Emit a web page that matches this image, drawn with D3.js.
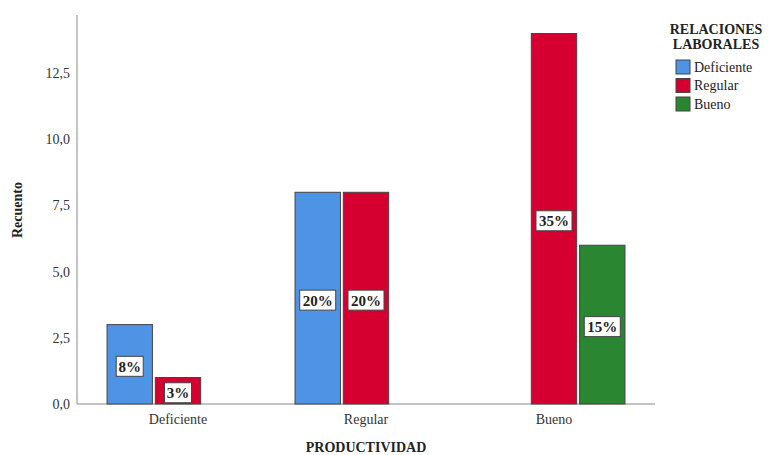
<!DOCTYPE html>
<html><head><meta charset="utf-8">
<script src="https://cdn.jsdelivr.net/npm/d3@7"></script>
<style>body{margin:0;background:#fff}</style>
</head><body>
<svg id="c" width="770" height="455" style="font-family:'Liberation Serif'"></svg>
<script>
const categories = ["Deficiente", "Regular", "Bueno"];
const seriesNames = ["Deficiente", "Regular", "Bueno"];
const valuesDeficiente = [3, 8, 0];
const valuesRegular = [1, 8, 14];
const valuesBueno = [0, 0, 6];
const labelsDeficiente = ["8%", "20%", ""];
const labelsRegular = ["3%", "20%", "35%"];
const labelsBueno = ["", "", "15%"];
const yTicks = [0, 2.5, 5, 7.5, 10, 12.5];
const colors = ["#4f93e4", "#d5002f", "#2a8630"];

const seriesVals = [valuesDeficiente, valuesRegular, valuesBueno];
const seriesLabels = [labelsDeficiente, labelsRegular, labelsBueno];
const svg = d3.select("#c");
const FF = "'Liberation Serif'";

const y = d3.scaleLinear().domain([0, 14.7]).range([404, 15]);
const x0 = d3.scaleBand().domain(categories).range([84, 648]).paddingInner(0.245).paddingOuter(0.1225);
const x1 = d3.scaleBand().domain(seriesNames).range([0, x0.bandwidth()]).paddingInner(0.06);

svg.append("line").attr("x1", 77).attr("x2", 77).attr("y1", 15).attr("y2", 404).attr("stroke", "#888");
svg.append("line").attr("x1", 77).attr("x2", 655).attr("y1", 404).attr("y2", 404).attr("stroke", "#888");

svg.append("g").selectAll("text").data(yTicks).join("text")
  .attr("x", 70).attr("y", d => y(d)).attr("dy", "0.35em").attr("text-anchor", "end")
  .style("font-family", FF).style("font-size", "14px").attr("fill", "#333")
  .text(d => d3.format(".1f")(d).replace(".", ","));

svg.append("g").selectAll("text").data(categories).join("text")
  .attr("x", d => x0(d) + x0.bandwidth() / 2).attr("y", 424).attr("text-anchor", "middle")
  .style("font-family", FF).style("font-size", "14px").attr("fill", "#333").text(d => d);

svg.append("text").attr("x", 366).attr("y", 452).attr("text-anchor", "middle")
  .style("font-family", FF).style("font-size", "14px").style("font-weight", "bold").attr("fill", "#222").text("PRODUCTIVIDAD");
svg.append("text").attr("transform", "translate(22,210) rotate(-90)").attr("text-anchor", "middle")
  .style("font-family", FF).style("font-size", "14px").style("font-weight", "bold").attr("fill", "#222").text("Recuento");

const data = [];
categories.forEach((c, i) => seriesNames.forEach((s, j) => {
  data.push({c, s, j, v: seriesVals[j][i], lab: seriesLabels[j][i]});
}));
const bars = data.filter(d => d.v > 0);
svg.append("g").selectAll("rect").data(bars).join("rect")
  .attr("x", d => x0(d.c) + x1(d.s)).attr("width", x1.bandwidth())
  .attr("y", d => y(d.v)).attr("height", d => y(0) - y(d.v))
  .attr("fill", d => colors[d.j]).attr("stroke", "#444").attr("stroke-width", 1);

const lg = svg.append("g").selectAll("g").data(bars.filter(d => d.lab)).join("g")
  .attr("transform", d => `translate(${x0(d.c) + x1(d.s) + x1.bandwidth() / 2},${(y(d.v) + y(0)) / 2 + 2})`);
lg.each(function(d) {
  const g = d3.select(this);
  const w = d.lab.length > 2 ? 36 : 27;
  g.append("rect").attr("x", -w / 2).attr("y", -10).attr("width", w).attr("height", 20)
    .attr("fill", "#fff").attr("stroke", "#444").attr("stroke-width", 1);
  g.append("text").attr("text-anchor", "middle").attr("dy", "0.36em")
    .style("font-family", FF).style("font-size", "15px").style("font-weight", "bold").attr("fill", "#222").text(d.lab);
});

svg.append("text").attr("x", 716).attr("y", 34).attr("text-anchor", "middle")
  .style("font-family", FF).style("font-size", "14px").style("font-weight", "bold").attr("fill", "#222").text("RELACIONES");
svg.append("text").attr("x", 716).attr("y", 49).attr("text-anchor", "middle")
  .style("font-family", FF).style("font-size", "14px").style("font-weight", "bold").attr("fill", "#222").text("LABORALES");
const leg = svg.append("g").selectAll("g").data(seriesNames).join("g")
  .attr("transform", (d, i) => `translate(676,${60 + i * 18.5})`);
leg.append("rect").attr("width", 14).attr("height", 14).attr("fill", (d, i) => colors[i]).attr("stroke", "#444");
leg.append("text").attr("x", 18).attr("y", 7).attr("dy", "0.35em")
  .style("font-family", FF).style("font-size", "14px").attr("fill", "#222").text(d => d);
</script>
</body></html>
